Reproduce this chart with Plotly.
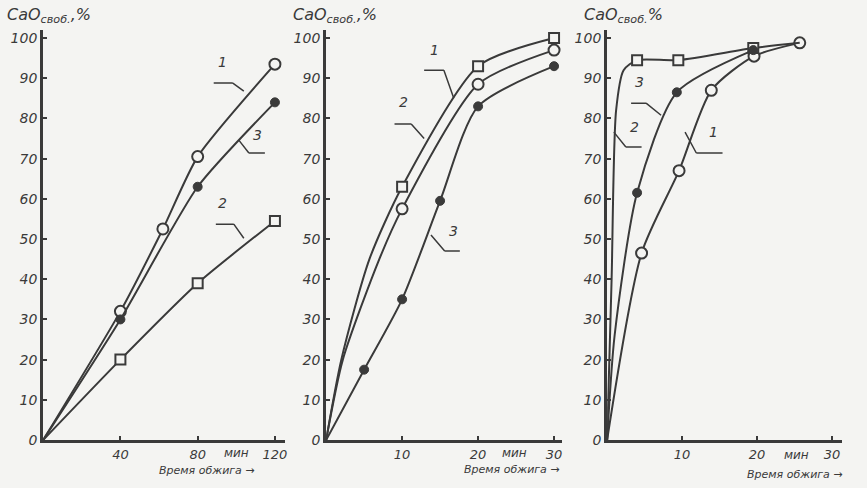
import plotly.graph_objects as go

# ---------------- data ----------------
# Panel 1 (time 0..120 min)
p1_c1_x = [0, 40, 62, 80, 120]
p1_c1_y = [0, 32, 52.5, 70.5, 93.5]
p1_c1_m = [0, 1, 1, 1, 1]
p1_c2_x = [0, 40, 80, 120]
p1_c2_y = [0, 20, 39, 54.5]
p1_c2_m = [0, 1, 1, 1]
p1_c3_x = [0, 40, 80, 120]
p1_c3_y = [0, 30, 63, 84]
p1_c3_m = [0, 1, 1, 1]

# Panel 2 (time 0..30 min)
p2_c1_x = [0, 2.2, 7, 10, 20, 30]
p2_c1_y = [0, 20, 45, 57.5, 88.5, 97]
p2_c1_m = [0, 0, 0, 1, 1, 1]
p2_c2_x = [0, 2, 5.7, 10, 20, 30]
p2_c2_y = [0, 20, 45, 63, 93, 100]
p2_c2_m = [0, 0, 0, 1, 1, 1]
p2_c3_x = [0, 5, 10, 15, 20, 30]
p2_c3_y = [0, 17.5, 35, 59.5, 83, 93]
p2_c3_m = [0, 1, 1, 1, 1, 1]

# Panel 3 (time 0..30 min)
p3_c1_x = [0, 4.6, 9.6, 13.9, 19.6, 25.7]
p3_c1_y = [0, 46.5, 67, 87, 95.5, 98.8]
p3_c1_m = [0, 1, 1, 1, 1, 1]
p3_c2_x = [0, 0.6, 1.2, 2.2, 4, 9.5, 19.5, 25.7]
p3_c2_y = [0, 40, 82, 92, 94.5, 94.5, 97.5, 98.8]
p3_c2_m = [0, 0, 0, 0, 1, 1, 1, 0]
p3_c3_x = [0, 1.0, 4, 9.3, 19.5]
p3_c3_y = [0, 26, 61.5, 86.5, 97]
p3_c3_m = [0, 0, 1, 1, 1]

y_ticks = [0, 10, 20, 30, 40, 50, 60, 70, 80, 90, 100]
p1_x_ticks = [40, 80, 120]
p23_x_ticks = [10, 20, 30]

# ---------------- style ----------------
INK = "#3a3a3a"
BG = "#f4f4f2"
FONT = "DejaVu Sans"
W, H = 867, 488
WE, HE = 861, 480   # effective drawing size observed in the renderer


def PX(p):
    return p / WE


def PY(p):
    return 1 - p / HE


fig = go.Figure()


def add_curve(ax, xs, ys, marks, symbol, smooth=0.7):
    xa = "x" if ax == 1 else f"x{ax}"
    ya = "y" if ax == 1 else f"y{ax}"
    fig.add_trace(go.Scatter(x=xs, y=ys, mode="lines", xaxis=xa, yaxis=ya,
                             line=dict(color=INK, width=2, shape="spline", smoothing=smooth),
                             hoverinfo="skip", showlegend=False))
    mx = [x for x, m in zip(xs, marks) if m]
    my = [y for y, m in zip(ys, marks) if m]
    if symbol == "filled":
        mk = dict(symbol="circle", size=9, color=INK, line=dict(color=INK, width=1))
    elif symbol == "square":
        mk = dict(symbol="square", size=10, color=BG, line=dict(color=INK, width=2))
    else:
        mk = dict(symbol="circle", size=11, color=BG, line=dict(color=INK, width=2))
    fig.add_trace(go.Scatter(x=mx, y=my, mode="markers", xaxis=xa, yaxis=ya,
                             marker=mk, hoverinfo="skip", showlegend=False))


add_curve(1, p1_c1_x, p1_c1_y, p1_c1_m, "circle", 0.6)
add_curve(1, p1_c2_x, p1_c2_y, p1_c2_m, "square", 0.6)
add_curve(1, p1_c3_x, p1_c3_y, p1_c3_m, "filled", 0.6)
add_curve(2, p2_c1_x, p2_c1_y, p2_c1_m, "circle")
add_curve(2, p2_c2_x, p2_c2_y, p2_c2_m, "square")
add_curve(2, p2_c3_x, p2_c3_y, p2_c3_m, "filled")
add_curve(3, p3_c1_x, p3_c1_y, p3_c1_m, "circle")
add_curve(3, p3_c2_x, p3_c2_y, p3_c2_m, "square")
add_curve(3, p3_c3_x, p3_c3_y, p3_c3_m, "filled")

tickfont = dict(family=FONT, size=14, color=INK, style="italic")
ydom = [PY(440), PY(30)]


def xaxis(p0, p1, rng, ticks, anchor):
    return dict(domain=[PX(p0), PX(p1)], range=rng, tickvals=ticks, showgrid=False, zeroline=False,
                showline=True, linecolor=INK, linewidth=3, ticks="inside", ticklen=4,
                tickwidth=2, tickcolor=INK, tickfont=dict(tickfont, size=13),
                ticklabelstandoff=0, anchor=anchor, fixedrange=True)


def yaxis(anchor):
    return dict(domain=ydom, range=[0, 102], tickvals=y_ticks, showgrid=False, zeroline=False,
                showline=True, linecolor=INK, linewidth=3, ticks="inside", ticklen=4,
                tickwidth=2, tickcolor=INK, tickfont=tickfont, anchor=anchor, fixedrange=True)


fig.update_layout(
    width=W, height=H, autosize=False, margin=dict(l=0, r=0, t=0, b=0, pad=0),
    paper_bgcolor=BG, plot_bgcolor=BG, showlegend=False,
    xaxis=xaxis(43, 283.6, [0, 125], p1_x_ticks, "y"),
    yaxis=yaxis("x"),
    xaxis2=xaxis(325, 559.7, [0, 31], p23_x_ticks, "y2"),
    yaxis2=yaxis("x2"),
    xaxis3=xaxis(605, 838.8, [0, 31.3], p23_x_ticks, "y3"),
    yaxis3=yaxis("x3"),
)

ann = []
# y-axis titles
for px, txt in [(5, "CaO<sub>своб.</sub>,%"), (290, "CaO<sub>своб.</sub>,%"), (580, "CaO<sub>своб.</sub>%")]:
    ann.append(dict(x=PX(px), y=PY(15), xref="paper", yref="paper", text=txt,
                    showarrow=False, xanchor="left", yanchor="middle",
                    font=dict(family=FONT, size=16, color=INK, style="italic")))
# "мин" between the last two ticks
for ax, xv, py in [(1, 100, 453), (2, 24.8, 453), (3, 25.3, 455)]:
    xr = "x" if ax == 1 else f"x{ax}"
    ann.append(dict(x=xv, y=PY(py), xref=xr, yref="paper", text="мин", showarrow=False,
                    xanchor="center", yanchor="middle",
                    font=dict(family=FONT, size=12, color=INK, style="italic")))
# x-axis titles
for px, py in [(206, 470), (510, 469), (792, 474)]:
    ann.append(dict(x=PX(px), y=PY(py), xref="paper", yref="paper", text="Время обжига →",
                    showarrow=False, xanchor="center", yanchor="middle",
                    font=dict(family=FONT, size=11, color=INK, style="italic")))

# curve number labels: (axis, text, text x, text y, underline x0, x1, y, leader from x, leader to x, to y)
labels = [
    (1, "1", 93, 91.5, 88.3, 98.2, 88.8, 98.2, 103.9, 86.8),
    (1, "3", 111, 73.5, 106.5, 114.8, 71.4, 106.5, 101.3, 74.6),
    (1, "2", 93, 56.5, 89.4, 98.7, 53.7, 98.7, 103.9, 50.2),
    (2, "1", 14.3, 94.5, 12.9, 15.5, 92, 15.5, 16.8, 85),
    (2, "2", 10.2, 81.5, 9.0, 11.2, 78.6, 11.2, 12.9, 75),
    (2, "3", 16.7, 49.5, 15.6, 17.6, 47, 15.6, 13.8, 51),
    (3, "2", 3.6, 75.5, 2.5, 4.6, 72.9, 2.5, 0.9, 76.6),
    (3, "3", 4.3, 86.5, 3.2, 5.2, 83.8, 5.2, 7.2, 80.8),
    (3, "1", 14.2, 74.2, 11.9, 15.4, 71.4, 11.9, 10.4, 76.6),
]
shapes = []
for ax, t, tx, ty, u0, u1, uy, lf, lx, ly in labels:
    xr = "x" if ax == 1 else f"x{ax}"
    yr = "y" if ax == 1 else f"y{ax}"
    ann.append(dict(x=tx, y=ty, xref=xr, yref=yr, text=t, showarrow=False,
                    xanchor="center", yanchor="bottom",
                    font=dict(family=FONT, size=14, color=INK, style="italic")))
    shapes.append(dict(type="path", xref=xr, yref=yr,
                       path=f"M {u0},{uy} L {u1},{uy} M {lf},{uy} L {lx},{ly}",
                       line=dict(color=INK, width=1.5)))

fig.update_layout(annotations=ann, shapes=shapes)
fig.write_html("out.html",
               config={"displayModeBar": False, "responsive": False},
               post_script="document.body.style.margin='0';document.body.style.overflow='hidden';")
